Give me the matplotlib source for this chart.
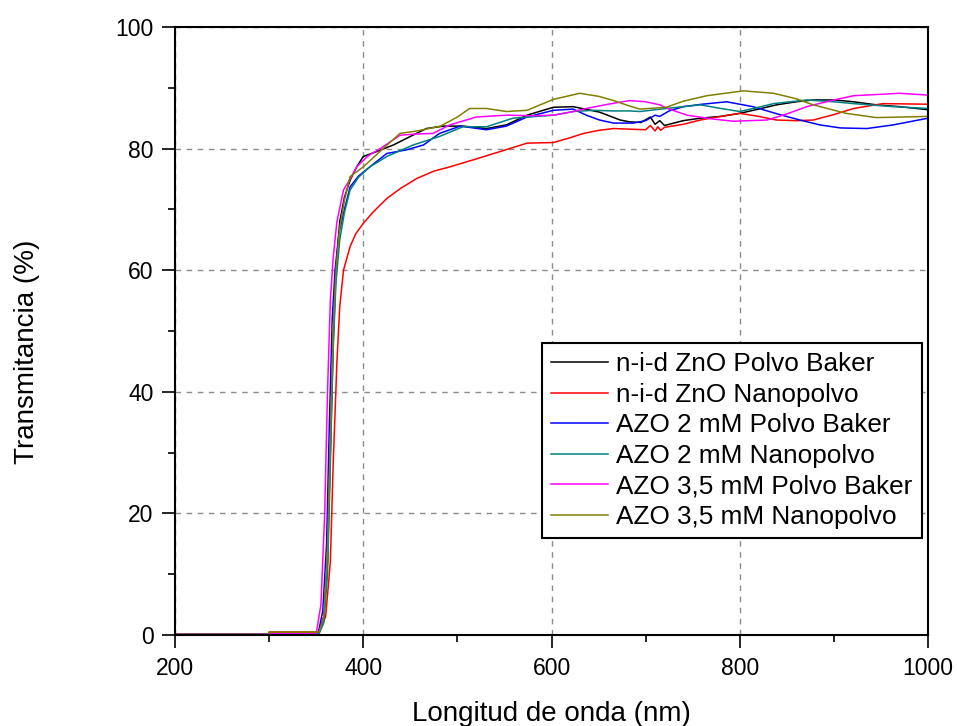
# Transmittance spectra of ZnO / AZO films

import matplotlib
matplotlib.use('Agg')
import matplotlib.pyplot as plt
from matplotlib.ticker import MultipleLocator

plt.rcParams['font.family'] = ['Liberation Sans', 'DejaVu Sans']

# n-i-d ZnO Polvo Baker
nid_baker_x = [200, 299, 300, 352, 358, 362, 365, 368, 371, 375, 380, 386, 393, 400, 414, 432, 450, 467,
               485, 506, 531, 552, 574, 602, 623, 651, 673, 683, 695, 705, 710, 715, 720, 740, 758, 780,
               800, 820, 839, 860, 878, 900, 921, 945, 970, 1000]
nid_baker_y = [0.1, 0.1, 0.3, 0.3, 3, 12, 30, 48, 60, 68, 72, 74.8, 77, 78.7, 79.5, 80.6, 82, 83.3,
               83.7, 83.7, 83.3, 83.9, 85.5, 86.8, 86.9, 86.0, 84.7, 84.4, 84.3, 85.2, 84.0, 84.6, 83.8, 84.6, 85.0, 85.3,
               85.8, 86.5, 87.2, 87.7, 88.0, 88.0, 87.7, 87.2, 86.9, 86.4]

# n-i-d ZnO Nanopolvo
nid_nano_x = [200, 299, 300, 353, 360, 365, 368, 372, 375, 379, 386, 392, 400, 410, 425, 440, 457, 475,
              492, 520, 545, 574, 602, 620, 634, 650, 666, 683, 700, 705, 710, 713, 716, 720, 740, 758,
              780, 800, 820, 839, 860, 878, 900, 921, 952, 1000]
nid_nano_y = [0.1, 0.1, 0.5, 0.5, 3, 12, 28, 45, 54, 60, 63.9, 66, 67.7, 69.5, 71.8, 73.5, 75.1, 76.3,
              77.0, 78.3, 79.5, 80.9, 81.0, 81.8, 82.5, 83.0, 83.3, 83.2, 83.1, 83.8, 82.9, 83.6, 83.0, 83.5, 84.0, 84.7,
              85.3, 85.8, 85.3, 84.7, 84.6, 84.7, 85.6, 86.6, 87.4, 87.3]

# AZO 2 mM Polvo Baker
azo2_baker_x = [200, 299, 300, 352, 357, 361, 364, 367, 370, 374, 380, 386, 395, 407, 425, 446, 464, 481,
                503, 531, 552, 574, 602, 623, 637, 651, 666, 687, 700, 710, 715, 725, 740, 760, 786, 814,
                840, 864, 885, 907, 935, 963, 1000]
azo2_baker_y = [0.1, 0.1, 0.2, 0.2, 4, 15, 35, 52, 60, 66, 70, 73.7, 75.5, 77.0, 79.2, 79.8, 80.6, 82.5,
                83.7, 83.1, 83.7, 85.2, 86.3, 86.5, 85.5, 84.7, 84.2, 84.2, 84.6, 85.5, 85.3, 86.2, 86.9, 87.3, 87.7, 86.9,
                85.7, 84.7, 83.9, 83.4, 83.3, 83.9, 85.0]

# AZO 2 mM Nanopolvo
azo2_nano_x = [200, 299, 300, 353, 358, 362, 365, 368, 371, 375, 380, 386, 395, 407, 425, 453, 481, 506,
               531, 559, 602, 623, 644, 665, 683, 694, 722, 758, 780, 800, 820, 836, 871, 900, 921, 963, 1000]
azo2_nano_y = [0.1, 0.1, 0.2, 0.2, 2, 10, 28, 47, 58, 65, 69.5, 73.2, 75.3, 77.0, 78.7, 80.6, 82.0, 83.6,
               83.6, 85.0, 85.5, 86.1, 86.3, 86.2, 86.2, 86.1, 86.6, 87.2, 86.6, 86.1, 86.8, 87.4, 88.0, 87.7, 87.4, 86.9, 86.6]

# AZO 3,5 mM Polvo Baker
azo35_baker_x = [200, 299, 300, 350, 355, 359, 362, 365, 368, 372, 379, 386, 393, 405, 418, 439, 456, 474,
                 492, 520, 552, 580, 602, 620, 637, 660, 683, 700, 715, 725, 744, 770, 793, 829, 850, 871,
                 900, 921, 970, 1000]
azo35_baker_y = [0.1, 0.1, 0.2, 0.2, 5, 20, 40, 55, 62, 68, 73.2, 75, 77.0, 78.8, 80.0, 82.2, 82.4, 82.5,
                 83.9, 85.2, 85.5, 85.4, 85.5, 86.0, 86.6, 87.3, 87.9, 87.7, 87.2, 86.5, 85.5, 84.9, 84.5, 84.7, 85.7, 86.9,
                 88.0, 88.7, 89.1, 88.8]

# AZO 3,5 mM Nanopolvo
azo35_nano_x = [200, 299, 300, 353, 358, 362, 365, 368, 371, 375, 380, 386, 400, 421, 439, 457, 482, 500,
                513, 531, 552, 574, 602, 630, 650, 666, 683, 694, 722, 740, 765, 804, 836, 860, 878, 913,
                945, 1000]
azo35_nano_y = [0.1, 0.1, 0.5, 0.5, 3, 14, 32, 50, 60, 67, 71.5, 75.4, 77.0, 80.0, 82.5, 82.9, 83.7, 85.2,
                86.6, 86.6, 86.1, 86.3, 88.1, 89.1, 88.6, 87.9, 87.0, 86.5, 86.8, 87.8, 88.7, 89.5, 89.1, 88.2, 87.2, 85.8,
                85.1, 85.3]

fig = plt.figure(figsize=(9.57, 7.26), dpi=100)
ax = fig.add_axes([0.1829, 0.1253, 0.7868, 0.8375])

ax.plot(nid_baker_x, nid_baker_y, color='black', lw=1.1, label='n-i-d ZnO Polvo Baker')
ax.plot(nid_nano_x, nid_nano_y, color='#ff0000', lw=1.1, label='n-i-d ZnO Nanopolvo')
ax.plot(azo2_baker_x, azo2_baker_y, color='#0000ff', lw=1.1, label='AZO 2 mM Polvo Baker')
ax.plot(azo2_nano_x, azo2_nano_y, color='#008080', lw=1.1, label='AZO 2 mM Nanopolvo')
ax.plot(azo35_baker_x, azo35_baker_y, color='#ff00ff', lw=1.1, label='AZO 3,5 mM Polvo Baker')
ax.plot(azo35_nano_x, azo35_nano_y, color='#808000', lw=1.1, label='AZO 3,5 mM Nanopolvo')

ax.set_xlim(200, 1000)
ax.set_ylim(0, 100)
ax.xaxis.set_major_locator(MultipleLocator(200))
ax.xaxis.set_minor_locator(MultipleLocator(100))
ax.yaxis.set_major_locator(MultipleLocator(20))
ax.yaxis.set_minor_locator(MultipleLocator(10))

ax.grid(True, which='major', color='#8c8c8c', linestyle=(0, (4, 4)), lw=1)
ax.set_axisbelow(True)

for s in ax.spines.values():
    s.set_linewidth(1.5)
ax.tick_params(which='major', direction='out', length=9.5, width=1.2, labelsize=16.5, pad=6)
ax.tick_params(which='minor', direction='out', length=5, width=1.2)
ax.xaxis.tick_bottom()
ax.yaxis.tick_left()

ax.set_xlabel('Longitud de onda (nm)', fontsize=20)
ax.set_ylabel('Transmitancia (%)', fontsize=20)
ax.xaxis.set_label_coords(0.5, -0.108)
ax.yaxis.set_label_coords(-0.180, 0.465)

leg = ax.legend(loc='upper left', bbox_to_anchor=(0.487, 0.480), borderaxespad=0,
                fontsize=18.8, handlelength=2.2, handletextpad=0.3, labelspacing=0.25,
                borderpad=0.35, fancybox=False, framealpha=1)
leg.get_frame().set_edgecolor('black')
leg.get_frame().set_linewidth(1.5)

fig.savefig('out.png', dpi=100)
